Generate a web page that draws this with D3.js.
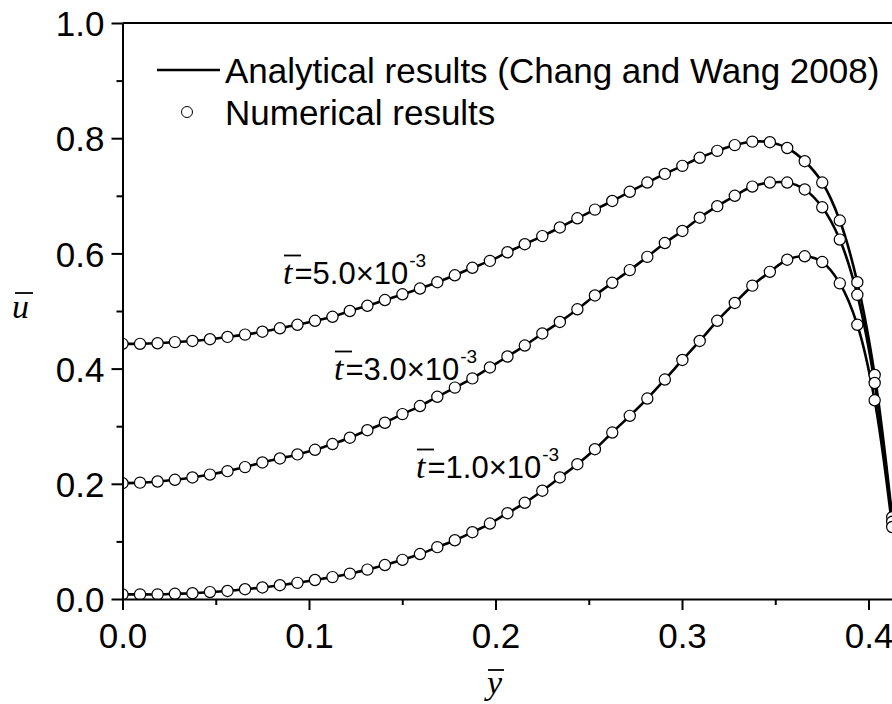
<!DOCTYPE html>
<html>
<head>
<meta charset="utf-8">
<script src="https://cdn.jsdelivr.net/npm/d3@7"></script>
<style>
  body { margin: 0; background: #fff; }
  text { font-family: "Liberation Sans", Arial, sans-serif; fill: #000; }
  .math { font-family: "Liberation Serif", "Times New Roman", serif; font-style: italic; }
</style>
</head>
<body>
<div id="chart"></div>
<script>
// sampled y-bar positions (numerical grid)
var yBar = [0, 0.0094, 0.0188, 0.0281, 0.0375, 0.0469, 0.0563, 0.0657, 0.0750, 0.0844,
  0.0938, 0.1032, 0.1126, 0.1219, 0.1313, 0.1407, 0.1501, 0.1595, 0.1688, 0.1782,
  0.1876, 0.1970, 0.2064, 0.2157, 0.2251, 0.2345, 0.2439, 0.2533, 0.2626, 0.2720,
  0.2814, 0.2908, 0.3002, 0.3095, 0.3189, 0.3283, 0.3377, 0.3471, 0.3564, 0.3658,
  0.3752, 0.3846, 0.3940, 0.4033, 0.4127];

// u-bar at t-bar = 5.0e-3
var uT5 = [0.443, 0.443, 0.444, 0.446, 0.448, 0.451, 0.455, 0.459, 0.464, 0.470,
  0.476, 0.483, 0.490, 0.500, 0.509, 0.519, 0.529, 0.539, 0.550, 0.562,
  0.575, 0.587, 0.602, 0.616, 0.630, 0.645, 0.661, 0.676, 0.691, 0.707,
  0.723, 0.738, 0.752, 0.766, 0.778, 0.788, 0.794, 0.793, 0.783, 0.760,
  0.723, 0.657, 0.550, 0.389, 0.142];

// u-bar at t-bar = 3.0e-3
var uT3 = [0.201, 0.202, 0.204, 0.207, 0.211, 0.216, 0.222, 0.229, 0.237, 0.244,
  0.251, 0.259, 0.269, 0.280, 0.293, 0.306, 0.321, 0.335, 0.351, 0.367,
  0.383, 0.402, 0.421, 0.440, 0.461, 0.481, 0.503, 0.527, 0.549, 0.571,
  0.594, 0.618, 0.639, 0.662, 0.682, 0.700, 0.716, 0.723, 0.723, 0.711,
  0.680, 0.624, 0.528, 0.375, 0.134];

// u-bar at t-bar = 1.0e-3
var uT1 = [0.008, 0.008, 0.008, 0.009, 0.010, 0.012, 0.014, 0.017, 0.020, 0.024,
  0.028, 0.033, 0.038, 0.044, 0.051, 0.059, 0.068, 0.078, 0.090, 0.102,
  0.116, 0.131, 0.149, 0.167, 0.188, 0.211, 0.234, 0.260, 0.289, 0.318,
  0.348, 0.381, 0.415, 0.448, 0.483, 0.514, 0.544, 0.568, 0.589, 0.595,
  0.585, 0.548, 0.476, 0.345, 0.125];

var xTicks = [0, 0.1, 0.2, 0.3, 0.4];
var xMinor = [0.05, 0.15, 0.25, 0.35];
var yTicks = [0, 0.2, 0.4, 0.6, 0.8, 1.0];
var yMinor = [0.1, 0.3, 0.5, 0.7, 0.9];

var legendLabels = ["Analytical results (Chang and Wang 2008)", "Numerical results"];
var curveNames = ["=5.0\u00d710", "=3.0\u00d710", "=1.0\u00d710"];
var curveExp = ["-3", "-3", "-3"];

//GLOBALS
W = 892;
H = 704;
margin = {top: 23, right: 0, bottom: 105, left: 122.5};
fontSize = 35;

svg = d3.select("#chart")
  .append("svg")
  .attr("width", W)
  .attr("height", H);

x = d3.scaleLinear().domain([0, 0.4127]).range([margin.left, 892.2]);
y = d3.scaleLinear().domain([0, 1]).range([599, margin.top]);

svg.append("clipPath")
  .attr("id", "plotclip")
  .append("rect")
  .attr("x", margin.left)
  .attr("y", 0)
  .attr("width", W - margin.left)
  .attr("height", 599);

var series = [uT5, uT3, uT1];

plot = svg.append("g").attr("clip-path", "url(#plotclip)");

var line = d3.line()
  .x(function(d, i) { return x(yBar[i]); })
  .y(function(d) { return y(d); })
  .curve(d3.curveCatmullRom.alpha(0.5));

series.forEach(function(s) {
  plot.append("path")
    .datum(s)
    .attr("d", line)
    .attr("fill", "none")
    .attr("stroke", "#000")
    .attr("stroke-width", 2.6);
});

series.forEach(function(s) {
  plot.append("g")
    .selectAll("circle")
    .data(s)
    .join("circle")
    .attr("cx", function(d, i) { return x(yBar[i]); })
    .attr("cy", function(d) { return y(d); })
    .attr("r", 5.6)
    .attr("fill", "#fff")
    .attr("stroke", "#000")
    .attr("stroke-width", 1.2);
});

////////// axes //////////
function styleAxis(g) {
  g.select(".domain").attr("stroke-width", 2);
  g.selectAll(".tick line").attr("stroke-width", 2);
}

var xAxis = svg.append("g")
  .attr("transform", "translate(0,599)")
  .call(d3.axisBottom(x).tickValues(xTicks).tickSize(11).tickSizeOuter(0)
    .tickFormat(d3.format(".1f")))
  .call(styleAxis);
xAxis.selectAll("text")
  .attr("y", 49)
  .attr("dy", 0)
  .style("font-size", fontSize + "px");

svg.append("g")
  .attr("transform", "translate(0,599)")
  .call(d3.axisBottom(x).tickValues(xMinor).tickSize(6).tickFormat(""))
  .call(styleAxis)
  .select(".domain").remove();

var yAxis = svg.append("g")
  .attr("transform", "translate(" + margin.left + ",0)")
  .call(d3.axisLeft(y).tickValues(yTicks).tickSize(11).tickSizeOuter(0)
    .tickFormat(d3.format(".1f")))
  .call(styleAxis);
yAxis.selectAll("text")
  .attr("x", -18)
  .attr("dy", "0.36em")
  .style("font-size", fontSize + "px");

svg.append("g")
  .attr("transform", "translate(" + margin.left + ",0)")
  .call(d3.axisLeft(y).tickValues(yMinor).tickSize(6).tickFormat(""))
  .call(styleAxis)
  .select(".domain").remove();

// top frame line
svg.append("line")
  .attr("x1", margin.left).attr("x2", W)
  .attr("y1", 23).attr("y2", 23)
  .attr("stroke", "#000").attr("stroke-width", 2);

////////// axis titles //////////
function barred(letter, px, py, size, barY, barX1, barX2) {
  svg.append("text")
    .attr("class", "math")
    .attr("x", px).attr("y", py)
    .style("font-size", size + "px")
    .text(letter);
  svg.append("line")
    .attr("x1", barX1).attr("x2", barX2)
    .attr("y1", barY).attr("y2", barY)
    .attr("stroke", "#000").attr("stroke-width", 1.8);
}
barred("u", 12, 318, 34, 293, 15, 33);
barred("y", 487, 694, 34, 670, 488, 504);

////////// legend //////////
svg.append("line")
  .attr("x1", 157).attr("x2", 220)
  .attr("y1", 70).attr("y2", 70)
  .attr("stroke", "#000").attr("stroke-width", 2.6);
svg.append("circle")
  .attr("cx", 187).attr("cy", 112).attr("r", 5.5)
  .attr("fill", "#fff").attr("stroke", "#000").attr("stroke-width", 1);

svg.selectAll(".legtext")
  .data(legendLabels)
  .join("text")
  .attr("class", "legtext")
  .attr("x", 225)
  .attr("y", function(d, i) { return 82.5 + i * 42; })
  .style("font-size", fontSize + "px")
  .text(function(d) { return d; });

////////// curve labels //////////
var labelPos = [[283, 284], [334, 380], [416, 478]];

curveNames.forEach(function(name, i) {
  var g = svg.append("g")
    .attr("transform", "translate(" + labelPos[i][0] + "," + labelPos[i][1] + ")");
  var t = g.append("text")
    .attr("class", "math")
    .style("font-size", "34px")
    .text("t");
  var tw = t.node().getComputedTextLength();
  g.append("line")
    .attr("x1", 1).attr("x2", 18)
    .attr("y1", -28.5).attr("y2", -28.5)
    .attr("stroke", "#000").attr("stroke-width", 1.8);
  var main = g.append("text")
    .attr("x", tw + 2)
    .style("font-size", "31px")
    .text(name);
  var mw = main.node().getComputedTextLength();
  g.append("text")
    .attr("x", tw + 2 + mw + 1)
    .attr("y", -17)
    .style("font-size", "19px")
    .text(curveExp[i]);
});
</script>
</body>
</html>
